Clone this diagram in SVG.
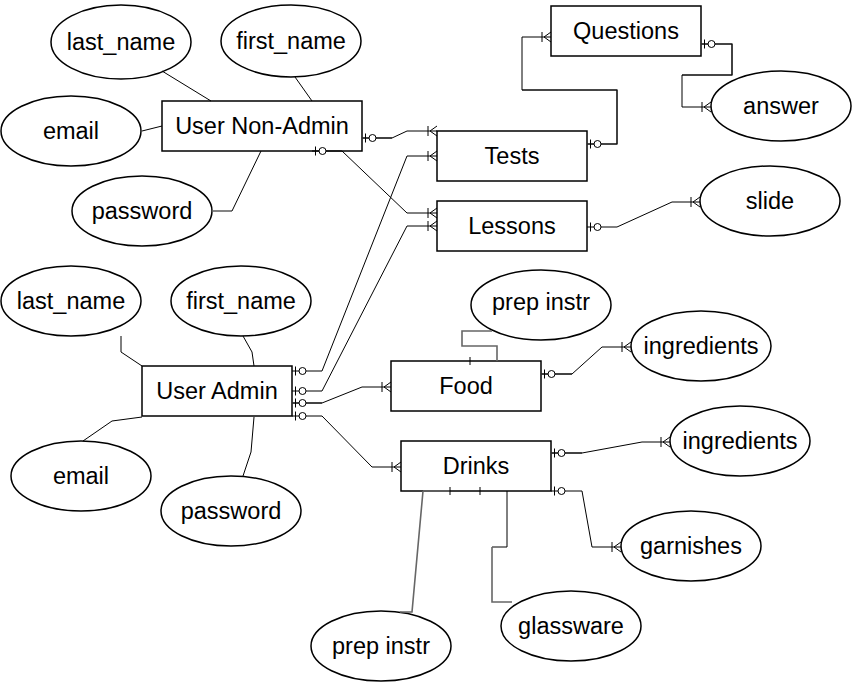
<svg xmlns="http://www.w3.org/2000/svg" width="852" height="683" viewBox="0 0 852 683">
<style>
.n ellipse, .n rect { fill: #fff; stroke: #000; stroke-width: 1.5; }
.n text { font-family: "Liberation Sans", Arial, sans-serif; font-size: 23.5px; fill: #000; text-anchor: middle; dominant-baseline: central; }
#connectors path { fill: none; stroke: #000; stroke-width: 1; }
#connectors path.g { stroke: #666; stroke-width: 1.6; }
.e { marker-end: url(#many); }
.s { marker-start: url(#zeroOne); }
</style>
<defs>
<marker id="zeroOne" markerUnits="userSpaceOnUse" orient="auto" refX="0" refY="0" markerWidth="20" markerHeight="12" viewBox="0 -6 20 12" overflow="visible">
<path d="M3.5,-4.5 V4.5" stroke="#000" stroke-width="1" fill="none"/>
<circle cx="10.5" cy="0" r="3.5" fill="#fff" stroke="#000" stroke-width="1"/>
</marker>
<marker id="many" markerUnits="userSpaceOnUse" orient="auto" refX="0" refY="0" markerWidth="12" markerHeight="12" viewBox="-12 -6 12 12" overflow="visible">
<path d="M-9,-5 V5 M0,-5 L-7,0 L0,5" stroke="#000" stroke-width="1" fill="none"/>
</marker>
</defs>
<rect width="852" height="683" fill="#fff"/>
<g id="last_name_1" class="n"><ellipse cx="121" cy="42" rx="70" ry="37"/><text x="121" y="42">last_name</text></g>
<g id="first_name_1" class="n"><ellipse cx="291" cy="41" rx="70" ry="36"/><text x="291" y="41">first_name</text></g>
<g id="email_1" class="n"><ellipse cx="71" cy="131" rx="70" ry="35"/><text x="71" y="131">email</text></g>
<g id="password_1" class="n"><ellipse cx="142" cy="211" rx="70" ry="35"/><text x="142" y="211">password</text></g>
<g id="user_non_admin" class="n"><rect x="162" y="101" width="200" height="50"/><text x="262" y="126">User Non-Admin</text></g>
<g id="questions" class="n"><rect x="551" y="6" width="150" height="50"/><text x="626" y="31">Questions</text></g>
<g id="answer" class="n"><ellipse cx="781" cy="106" rx="70" ry="35"/><text x="781" y="106">answer</text></g>
<g id="tests" class="n"><rect x="437" y="131" width="150" height="50"/><text x="512" y="156">Tests</text></g>
<g id="lessons" class="n"><rect x="437" y="201" width="150" height="50"/><text x="512" y="226">Lessons</text></g>
<g id="slide" class="n"><ellipse cx="770" cy="201" rx="70" ry="35"/><text x="770" y="201">slide</text></g>
<g id="last_name_2" class="n"><ellipse cx="71" cy="301" rx="70" ry="35"/><text x="71" y="301">last_name</text></g>
<g id="first_name_2" class="n"><ellipse cx="241" cy="301" rx="70" ry="35"/><text x="241" y="301">first_name</text></g>
<g id="email_2" class="n"><ellipse cx="81" cy="476" rx="70" ry="35"/><text x="81" y="476">email</text></g>
<g id="password_2" class="n"><ellipse cx="231" cy="511" rx="70" ry="35"/><text x="231" y="511">password</text></g>
<g id="user_admin" class="n"><rect x="142" y="366" width="150" height="50"/><text x="217" y="391">User Admin</text></g>
<g id="prep_instr_1" class="n"><ellipse cx="541" cy="305" rx="70" ry="35"/><text x="541" y="302">prep instr</text></g>
<g id="ingredients_1" class="n"><ellipse cx="701" cy="346" rx="70" ry="35"/><text x="701" y="346">ingredients</text></g>
<g id="food" class="n"><rect x="391" y="361" width="150" height="50"/><text x="466" y="386">Food</text></g>
<g id="drinks" class="n"><rect x="401" y="441" width="150" height="50"/><text x="476" y="466">Drinks</text></g>
<g id="ingredients_2" class="n"><ellipse cx="740" cy="441" rx="70" ry="35"/><text x="740" y="441">ingredients</text></g>
<g id="garnishes" class="n"><ellipse cx="691" cy="546" rx="70" ry="35"/><text x="691" y="546">garnishes</text></g>
<g id="glassware" class="n"><ellipse cx="571" cy="626" rx="70" ry="35"/><text x="571" y="626">glassware</text></g>
<g id="prep_instr_2" class="n"><ellipse cx="381" cy="646" rx="70" ry="35"/><text x="381" y="646">prep instr</text></g>
<g id="connectors">
<path d="M162,71 L211,101"/>
<path d="M295,77 L312,101"/>
<path d="M142,131 L162,126"/>
<path class="g" d="M212,211 L232,211"/>
<path d="M232,211 L261,151"/>
<path d="M121,336 L121,352 L142,366"/>
<path d="M243,336 L252,352 L254,366"/>
<path d="M142,417 L112,421 L83,441"/>
<path d="M254,417 L251,452 L243,476"/>
<path class="g" d="M362,138 L392,138"/>
<path class="s e" d="M362,138 L392,138 L407,131 L437,131"/>
<path class="s e" d="M312,151 L342,151 L407,213 L437,213"/>
<path class="g" d="M587,144 L617,144 L617,90 L522,90"/>
<path class="s e" d="M587,144 L617,144 L617,90 L522,90 L522,37 L551,37"/>
<path class="g" d="M701,44 L732,44 L732,75 L682,75"/>
<path class="s e" d="M701,44 L732,44 L732,75 L682,75 L682,107 L711,107"/>
<path class="s e" d="M587,227 L617,227 L672,202 L700,202"/>
<path class="s e" d="M292,371 L322,371 L407,156 L437,156"/>
<path class="s e" d="M292,391 L322,391 L407,226 L437,226"/>
<path class="g" d="M292,403 L322,403"/>
<path class="s e" d="M292,403 L322,403 L362,387 L391,387"/>
<path class="s e" d="M292,416 L322,416 L372,467 L401,467"/>
<path class="g" d="M497,361 L497,346 L462,346 L462,331 L492,331"/>
<path d="M470,357 L470,365"/>
<path class="g" d="M541,374 L572,374"/>
<path class="s e" d="M541,374 L572,374 L602,347 L631,347"/>
<path class="g" d="M551,453 L582,453"/>
<path class="s e" d="M551,453 L582,453 L642,442 L670,442"/>
<path class="s e" d="M551,491 L582,491 L592,547 L621,547"/>
<path d="M507,491 L507,547 L492,547"/>
<path class="g" d="M492,547 L492,602 L512,602"/>
<path d="M480,487 L480,495"/>
<path class="g" d="M423,491 L450,491"/>
<path d="M450,487 L450,495"/>
<path class="g" d="M423,491 L412,612 L400,612"/>
</g>
</svg>
